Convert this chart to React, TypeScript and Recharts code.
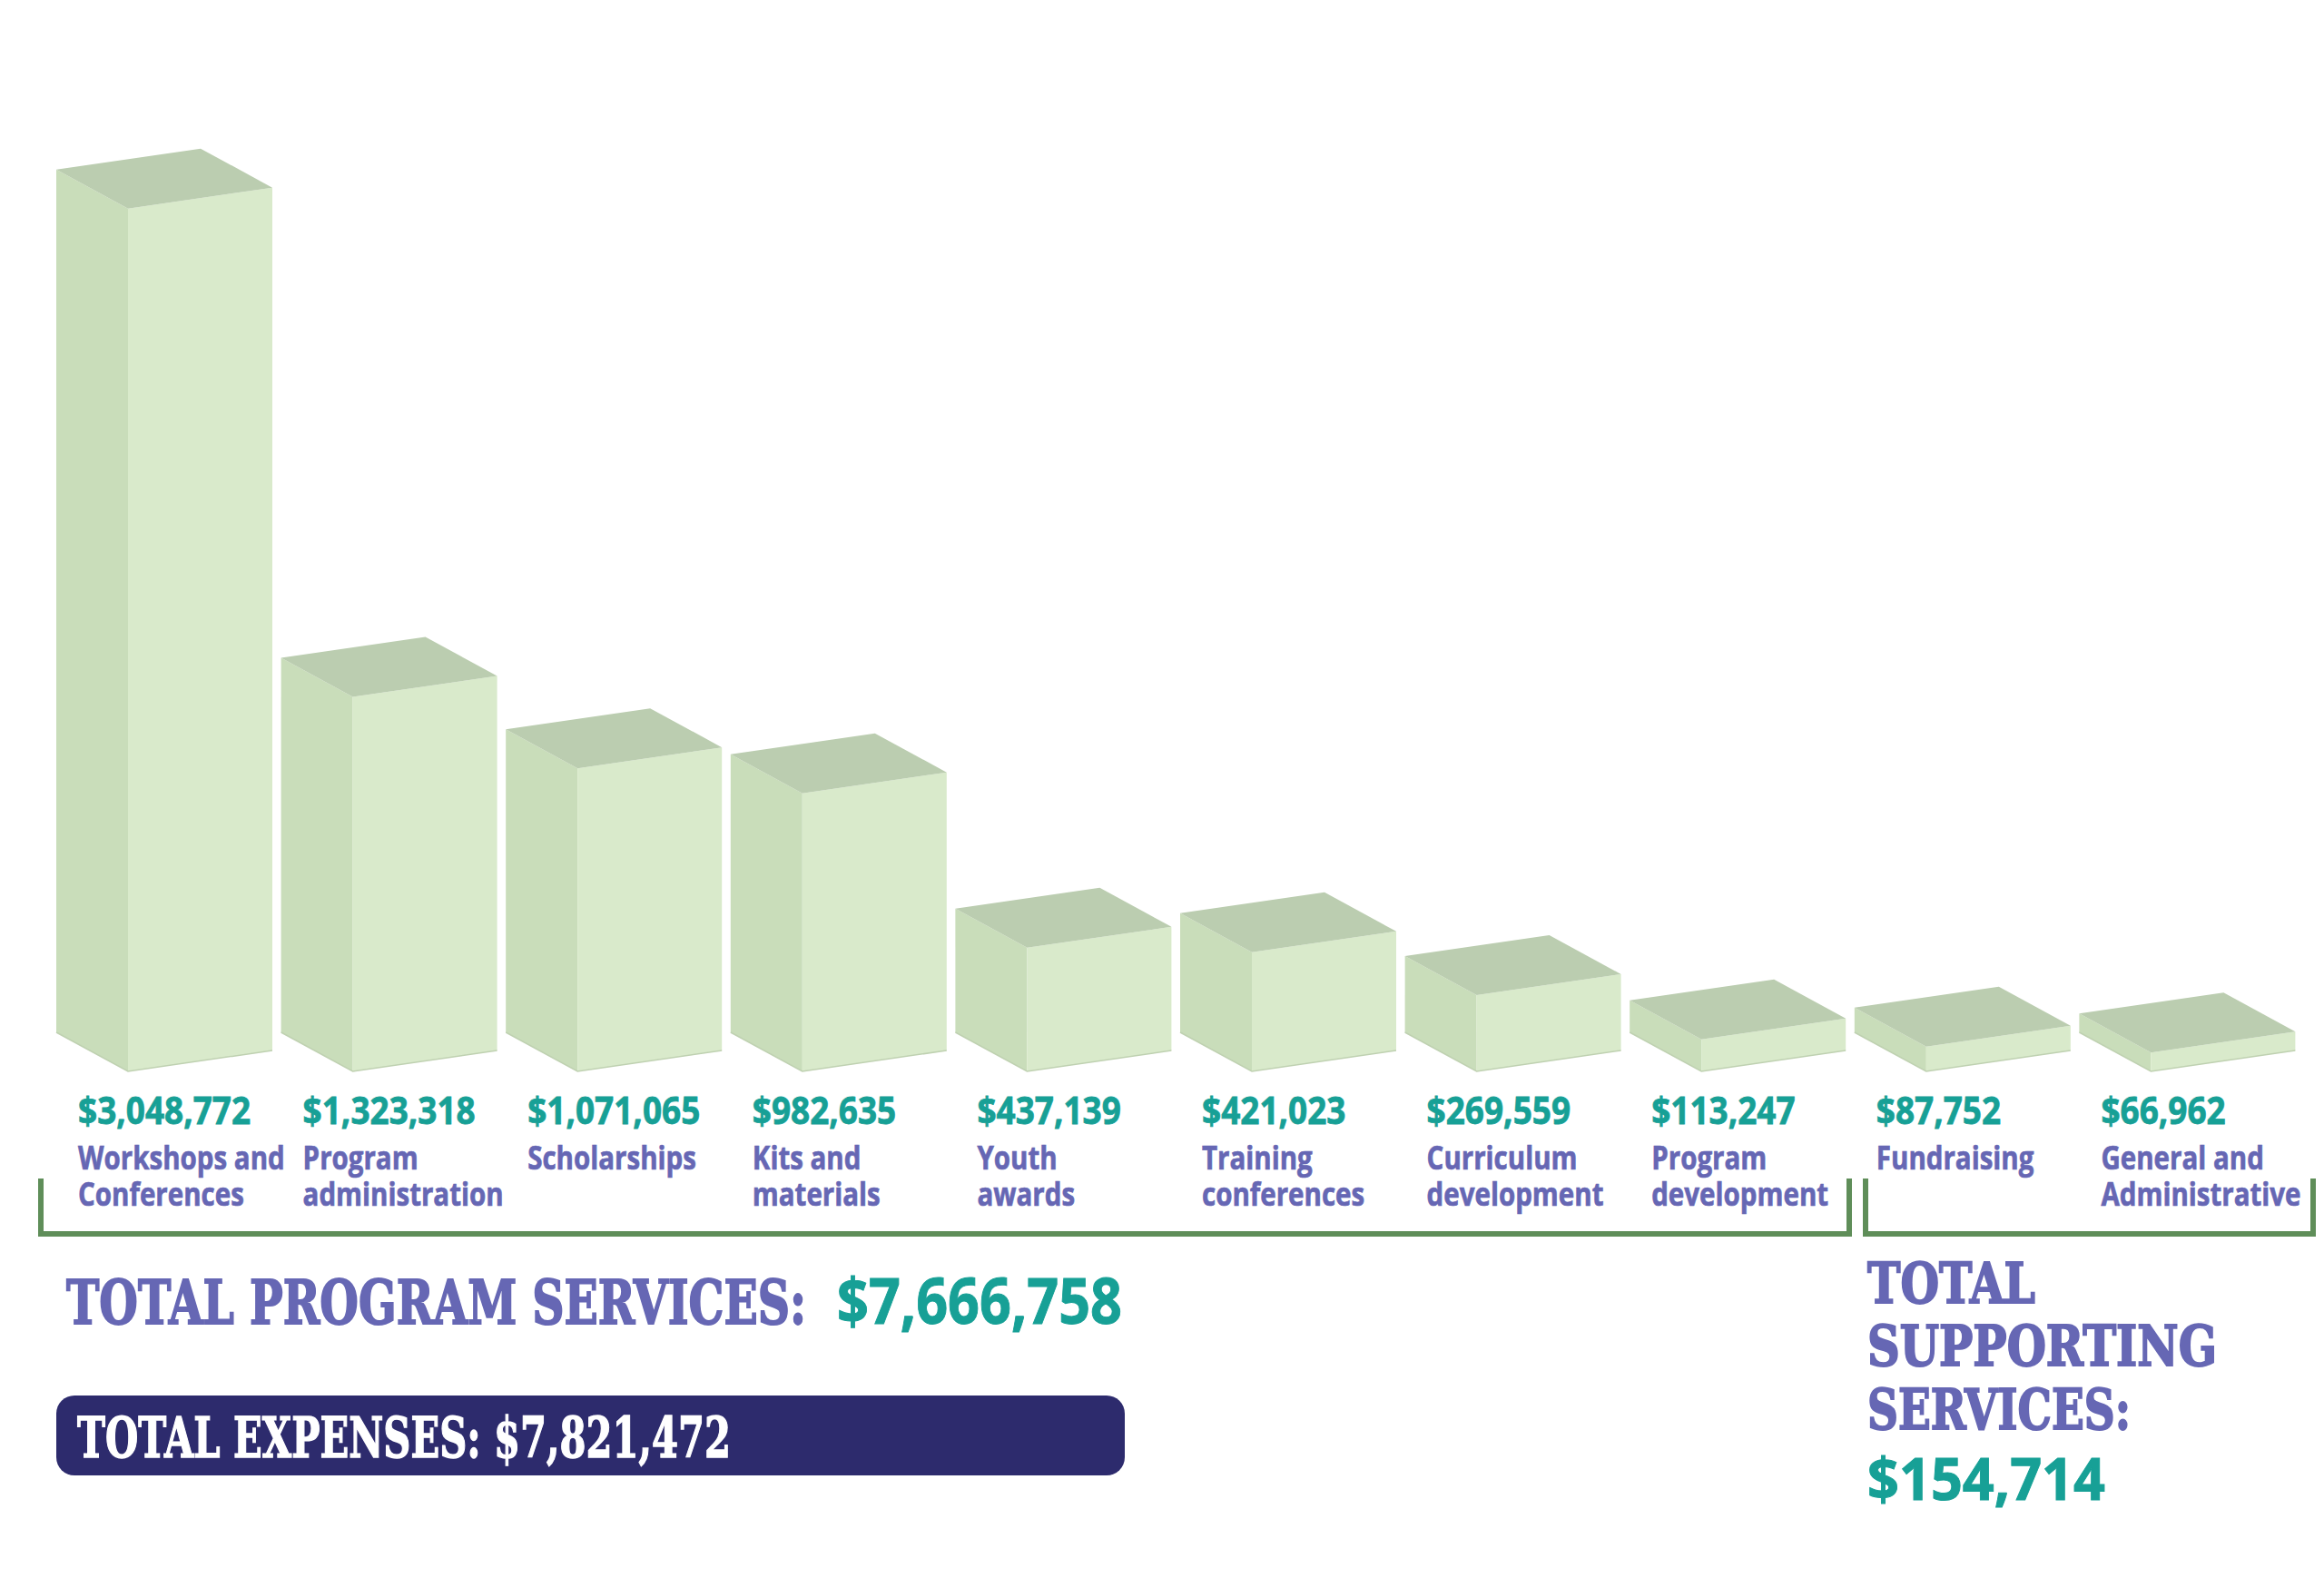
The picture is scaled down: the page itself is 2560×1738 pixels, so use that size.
import { Bar, BarChart, XAxis, YAxis } from 'recharts'

// category labels, split into the two lines used under each box
const categories = [
  ['Workshops and', 'Conferences'],
  ['Program', 'administration'],
  ['Scholarships'],
  ['Kits and', 'materials'],
  ['Youth', 'awards'],
  ['Training', 'conferences'],
  ['Curriculum', 'development'],
  ['Program', 'development'],
  ['Fundraising'],
  ['General and', 'Administrative'],
]
const expenses = [3048772, 1323318, 1071065, 982635, 437139, 421023, 269559, 113247, 87752, 66962]

const totalProgram = '$7,666,758'
const totalSupporting = '$154,714'
const totalExpenses = '$7,821,472'

const FRONT = '#d9eacb'
const SIDE = '#c9ddba'
const TOP = '#bbcdb0'
const EDGE = '#bfd1b1'
const TEAL = '#17a096'
const PURPLE = '#6667b4'
const NAVY = '#2d2b6d'
const BRACKET = '#5f8e59'

const DEPTH_X = 79
const DEPTH_Y = 43
const SLOPE = 23
const SANS = '"Open Sans", "Noto Sans", sans-serif'
const SLAB = '"DejaVu Serif", serif'

const data = categories.map((lines, i) => ({ name: lines.join(' '), lines, value: expenses[i] }))

const money = (v: number) => '$' + v.toLocaleString('en-US')

const Box3D = (props: any) => {
  const { x, y, width, height, payload } = props
  const fx = x + DEPTH_X
  const fr = x + width
  const bottom = y + height
  const front = `M${fx},${y} L${fr},${y - SLOPE} L${fr},${bottom - SLOPE} L${fx},${bottom} Z`
  const side = `M${x},${y - DEPTH_Y} L${fx},${y} L${fx},${bottom} L${x},${bottom - DEPTH_Y} Z`
  const top = `M${x},${y - DEPTH_Y} L${fx},${y} L${fr},${y - SLOPE} L${fr - DEPTH_X},${y - SLOPE - DEPTH_Y} Z`
  const tx = x + 24
  return (
    <g>
      <path d={side} fill={SIDE} />
      <path d={front} fill={FRONT} />
      <path d={top} fill={TOP} />
      <path
        d={`M${x},${bottom - DEPTH_Y} L${fx},${bottom} L${fr},${bottom - SLOPE}`}
        fill="none"
        stroke={EDGE}
        strokeWidth={1.5}
      />
      {/* condensed look: squeeze the labels horizontally */}
      <g transform={`translate(${tx},0) scale(0.88,1)`}>
        <text x={0} y={bottom + 58} fill={TEAL} stroke={TEAL} strokeWidth={0.8} fontFamily={SANS} fontWeight={700} fontSize={42}>
          {money(payload.value)}
        </text>
      </g>
      <g transform={`translate(${tx},0) scale(0.82,1)`}>
        {payload.lines.map((line: string, i: number) => (
          <text key={i} x={0} y={bottom + 108 + i * 40} fill={PURPLE} stroke={PURPLE} strokeWidth={0.7} fontFamily={SANS} fontWeight={700} fontSize={36}>
            {line}
          </text>
        ))}
      </g>
    </g>
  )
}

export default function App() {
  return (
    <div style={{ position: 'absolute', left: 0, top: 0, width: 2560, height: 1738, overflow: 'hidden', background: '#fff' }}>
      <BarChart
        width={2560}
        height={1738}
        data={data}
        margin={{ top: 89, right: 27, bottom: 558, left: 57 }}
        barSize={238}
      >
        <XAxis dataKey="name" hide />
        <YAxis hide domain={[0, 3500000]} />
        <Bar dataKey="value" shape={<Box3D />} isAnimationActive={false} />
      </BarChart>

      <svg width={2560} height={1738} style={{ position: 'absolute', left: 0, top: 0, pointerEvents: 'none' }}>
        {/* group brackets */}
        <path d="M45,1298 L45,1359 L2037,1359 L2037,1298" fill="none" stroke={BRACKET} strokeWidth={6} />
        <path d="M2055,1298 L2055,1359 L2548,1359 L2548,1298" fill="none" stroke={BRACKET} strokeWidth={6} />

        <g fontFamily={SLAB} fontWeight={700}>
          <text x={73} y={1458} fill={PURPLE} stroke={PURPLE} strokeWidth={2} fontSize={68} textLength={815} lengthAdjust="spacingAndGlyphs">
            TOTAL PROGRAM SERVICES:
          </text>
          <rect x={62} y={1537} width={1177} height={88} rx={20} fill={NAVY} />
          <text x={85} y={1605} fill="#fff" stroke="#fff" strokeWidth={1.5} fontSize={62} textLength={720} lengthAdjust="spacingAndGlyphs">
            {'TOTAL EXPENSES: ' + totalExpenses}
          </text>
          <text x={2057} y={1435} fill={PURPLE} stroke={PURPLE} strokeWidth={2} fontSize={61} textLength={185} lengthAdjust="spacingAndGlyphs">
            TOTAL
          </text>
          <text x={2057} y={1504} fill={PURPLE} stroke={PURPLE} strokeWidth={2} fontSize={61} textLength={385} lengthAdjust="spacingAndGlyphs">
            SUPPORTING
          </text>
          <text x={2057} y={1574} fill={PURPLE} stroke={PURPLE} strokeWidth={2} fontSize={61} textLength={290} lengthAdjust="spacingAndGlyphs">
            SERVICES:
          </text>
        </g>
        <text x={922} y={1458} fill={TEAL} stroke={TEAL} strokeWidth={1} fontFamily={SANS} fontWeight={700} fontSize={70} textLength={314} lengthAdjust="spacingAndGlyphs">
          {totalProgram}
        </text>
        <text x={2057} y={1652} fill={TEAL} stroke={TEAL} strokeWidth={1} fontFamily={SANS} fontWeight={700} fontSize={64} textLength={262} lengthAdjust="spacingAndGlyphs">
          {totalSupporting}
        </text>
      </svg>
    </div>
  )
}
